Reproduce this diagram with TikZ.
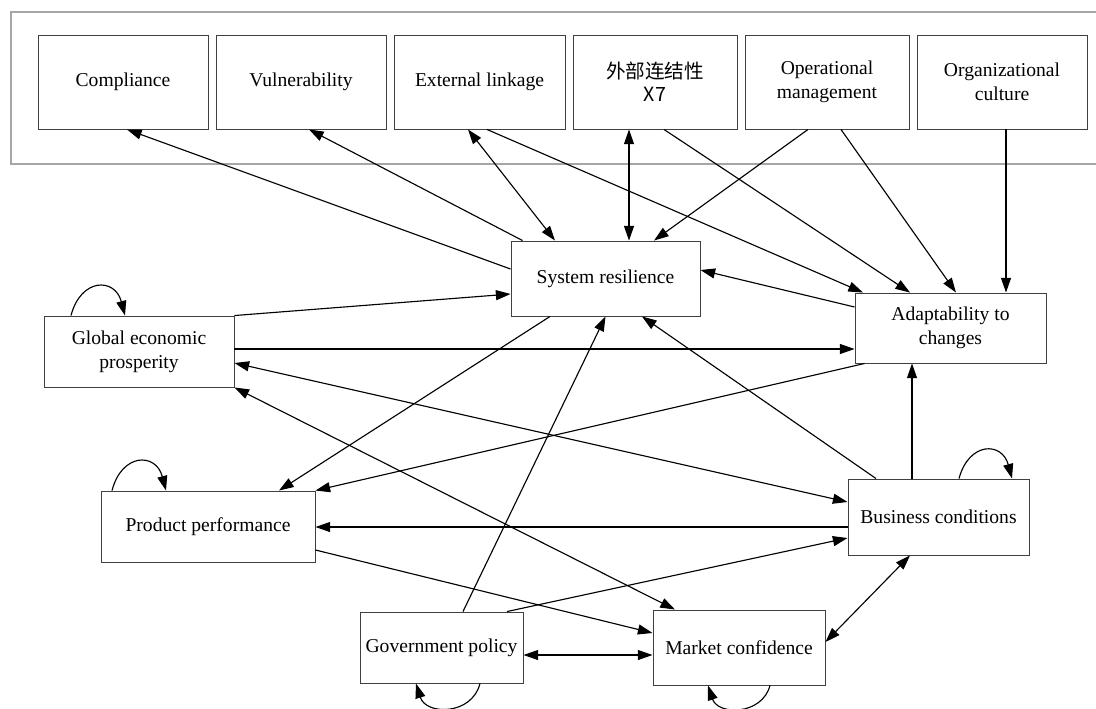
\documentclass[tikz,border=0pt]{standalone}
\usepackage{fontspec}
\setmainfont{Liberation Serif}
\newfontfamily\cjk{Noto Sans CJK SC}
\usetikzlibrary{arrows.meta,calc,shadows}
\begin{document}
\begin{tikzpicture}[x=0.75pt,y=-0.75pt,
  box/.style={draw=black!75, line width=0.7pt, fill=white, rectangle, align=center,
    font=\fontsize{14.7}{18}\selectfont, inner sep=2pt,
    general shadow={fill=black!12, shadow xshift=1pt, shadow yshift=-1pt}},
  arr/.style={-{Triangle[length=11pt,width=7.5pt]}, line width=0.85pt},
  biarr/.style={{Triangle[length=11pt,width=7.5pt]}-{Triangle[length=11pt,width=7.5pt]}, line width=0.85pt}
]
\useasboundingbox (0,0) rectangle (1096,708);
\draw[black!35, line width=1.3pt] (1096,12) -- (11,12) -- (11,164) -- (1096,164);

\node[box, minimum width=127.5pt, minimum height=70.5pt] (comp) at (123,82) {Compliance};
\node[box, minimum width=127.5pt, minimum height=70.5pt] (vuln) at (301,82) {Vulnerability};
\node[box, minimum width=128.25pt, minimum height=70.5pt] (ext) at (479.5,82) {External linkage};
\node[box, minimum width=123pt, minimum height=70.5pt] (x7) at (655,82) {\cjk 外部连结性\\[-1pt]\cjk X7};
\node[box, minimum width=123pt, minimum height=70.5pt] (op) at (827,82) {Operational\\management};
\node[box, minimum width=127.5pt, minimum height=70.5pt] (org) at (1002,82) {Organizational\\culture};

\node[box, minimum width=141.75pt, minimum height=56.25pt] (sr) at (605.5,278.5) {System resilience};
\node[box, minimum width=143.25pt, minimum height=52.5pt] (ad) at (950.5,328) {Adaptability to\\changes};
\node[box, minimum width=142.5pt, minimum height=53.25pt] (gl) at (139,351.5) {Global economic\\prosperity};
\node[box, minimum width=160.5pt, minimum height=53.25pt] (pp) at (208,526.5) {Product performance};
\node[box, minimum width=135.75pt, minimum height=57pt] (bc) at (938.5,517) {Business conditions};
\node[box, minimum width=122.25pt, minimum height=53.25pt] (gov) at (441.5,647.5) {Government policy};
\node[box, minimum width=129pt, minimum height=56.25pt] (mc) at (739,647.5) {Market confidence};

% top group
\draw[arr] ([shift={(0,-9.5)}]sr.west) -- ([shift={(4,0)}]comp.south);
\draw[arr] ([shift={(12,0)}]sr.north west) -- ([shift={(8,0)}]vuln.south);
\draw[biarr] ([shift={(-11.5,0)}]ext.south) -- ([shift={(-50.5,0)}]sr.north);
\draw[arr] ([shift={(7.5,0)}]ext.south) -- ([shift={(-87.5,0)}]ad.north);
\draw[biarr] ([shift={(-26,0)}]x7.south) -- ([shift={(23.5,0)}]sr.north);
\draw[arr] ([shift={(9,0)}]x7.south) -- ([shift={(-40.5,0)}]ad.north);
\draw[arr] ([shift={(-19,0)}]op.south) -- ([shift={(48.5,0)}]sr.north);
\draw[arr] ([shift={(14,0)}]op.south) -- ([shift={(5.5,0)}]ad.north);
\draw[arr] ([shift={(4,0)}]org.south) -- ([shift={(55.5,0)}]ad.north);

% middle
\draw[arr] ([shift={(0,-21)}]ad.west) -- ([shift={(0,-8.5)}]sr.east);
\draw[arr] (gl.north east) -- ([shift={(0,15.5)}]sr.west);
\draw[arr] ([shift={(0,-2.5)}]gl.east) -- ([shift={(0,21)}]ad.west);
\draw[arr] ([shift={(-55.5,0)}]sr.south) -- ([shift={(71,0)}]pp.north);
\draw[arr] ([shift={(10,0)}]ad.south west) -- (pp.north east);
\draw[biarr] ([shift={(0,11.5)}]gl.east) -- ([shift={(0,-15)}]bc.west);
\draw[biarr] (gl.south east) -- ([shift={(-64,0)}]mc.north);
\draw[arr] ([shift={(21.5,0)}]gov.north) -- (sr.south);
\draw[arr] ([shift={(-62.5,0)}]bc.north) -- ([shift={(36.5,0)}]sr.south);
\draw[arr] ([shift={(-26.5,0)}]bc.north) -- ([shift={(-38.5,0)}]ad.south);
\draw[arr] ([shift={(0,10)}]bc.west) -- ([shift={(0,0.5)}]pp.east);
\draw[arr] ([shift={(0,23.5)}]pp.east) -- ([shift={(0,-14.5)}]mc.west);
\draw[arr] ([shift={(65.5,0)}]gov.north) -- ([shift={(0,21)}]bc.west);
\draw[biarr] ([shift={(0,7.5)}]gov.east) -- ([shift={(0,7.5)}]mc.west);
\draw[biarr] ([shift={(0,-5.5)}]mc.east) -- ([shift={(-28.5,0)}]bc.south);

% self loops
\draw[arr] ([shift={(-68,0)}]gl.north) .. controls +(10,-38) and +(-10,-38) .. ([shift={(-14,0)}]gl.north);
\draw[arr] ([shift={(-96,0)}]pp.north) .. controls +(10,-38) and +(-10,-38) .. ([shift={(-42,0)}]pp.north);
\draw[arr] ([shift={(20.5,0)}]bc.north) .. controls +(10,-37) and +(-10,-37) .. ([shift={(73.5,0)}]bc.north);
\draw[arr] ([shift={(38.5,0)}]gov.south) .. controls +(-8,32) and +(10,32) .. ([shift={(-25.5,0)}]gov.south);
\draw[arr] ([shift={(31,0)}]mc.south) .. controls +(-8,30) and +(10,30) .. ([shift={(-31,0)}]mc.south);
\end{tikzpicture}
\end{document}
